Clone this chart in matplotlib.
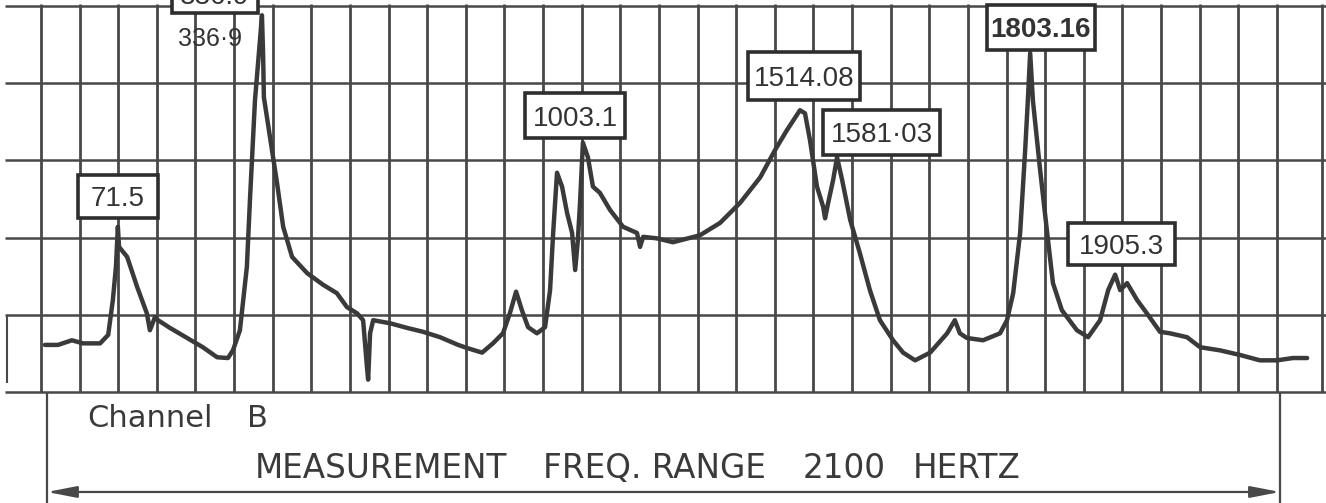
import matplotlib
matplotlib.use('Agg')
import matplotlib.pyplot as plt
from matplotlib.patches import Rectangle
import numpy as np

# Channel B spectrum.
# x: grid divisions from the left grid line, y: grid divisions above the base line
freq_div = [0.10, 0.44, 0.80, 1.09, 1.53, 1.74, 1.86, 1.94, 1.99, 2.02,
            2.23, 2.49, 2.74, 2.82, 2.95, 3.03, 3.34, 3.78, 4.19, 4.56,
            4.84, 4.97, 5.15, 5.33, 5.41, 5.54, 5.67, 5.72, 5.75, 5.77,
            5.98, 6.11, 6.27, 6.50, 6.89, 7.30, 7.66, 7.92, 8.18, 8.34,
            8.44, 8.47, 8.52, 8.60, 9.04, 9.48, 9.89, 10.33, 10.80, 11.03,
            11.42, 11.70, 11.96, 12.14, 12.30, 12.45, 12.61, 12.84, 13.05, 13.18,
            13.26, 13.36, 13.49, 13.62, 13.75, 13.83, 13.90, 13.96, 14.03, 14.16,
            14.29, 14.47, 14.73, 15.07, 15.43, 15.51, 15.59, 15.95, 16.36, 17.06,
            17.58, 18.10, 18.62, 19.00, 19.31, 19.65, 19.78, 19.91, 20.09, 20.25,
            20.30, 20.38, 20.51, 20.61, 20.74, 20.95, 21.20, 21.46, 21.72, 22.06,
            22.32, 22.63, 23.02, 23.46, 23.66, 23.79, 23.97, 24.39, 24.83, 25.01,
            25.17, 25.35, 25.48, 25.55, 25.61, 25.68, 25.86, 26.05, 26.20, 26.43,
            26.82, 27.11, 27.42, 27.63, 27.81, 27.94, 28.12, 28.38, 28.63, 28.97,
            29.23, 29.67, 30.01, 30.52, 31.04, 31.56, 32.00, 32.41, 32.78]
amp_div = [0.61, 0.61, 0.67, 0.63, 0.63, 0.74, 1.19, 1.62, 2.14, 1.88,
           1.75, 1.36, 1.02, 0.80, 0.97, 0.93, 0.83, 0.70, 0.58, 0.45,
           0.44, 0.54, 0.80, 1.62, 2.49, 3.78, 4.56, 4.88, 4.39, 3.82,
           3.13, 2.71, 2.14, 1.75, 1.54, 1.39, 1.28, 1.10, 1.02, 0.93,
           0.32, 0.16, 0.76, 0.93, 0.89, 0.83, 0.78, 0.71, 0.61, 0.57,
           0.51, 0.63, 0.76, 1.02, 1.30, 1.06, 0.84, 0.76, 0.84, 1.32,
           2.06, 2.84, 2.66, 2.32, 2.06, 1.58, 1.97, 2.49, 3.23, 3.04,
           2.66, 2.58, 2.36, 2.14, 2.06, 1.88, 2.01, 1.99, 1.94, 2.03,
           2.19, 2.45, 2.78, 3.13, 3.39, 3.65, 3.61, 3.26, 2.66, 2.40,
           2.25, 2.45, 2.75, 3.04, 2.75, 2.23, 1.80, 1.32, 0.93, 0.67,
           0.51, 0.41, 0.51, 0.76, 0.93, 0.76, 0.70, 0.67, 0.76, 0.93,
           1.28, 2.06, 3.13, 3.78, 4.39, 3.78, 2.91, 2.06, 1.41, 1.06,
           0.80, 0.71, 0.93, 1.32, 1.52, 1.32, 1.41, 1.19, 1.02, 0.78,
           0.76, 0.71, 0.58, 0.54, 0.48, 0.41, 0.41, 0.44, 0.44]

peak_labels = ['71.5', '336.9', '1003.1', '1514.08', '1581·03', '1803.16', '1905.3']
side_label = '336·9'
bottom_words = ['MEASUREMENT', 'FREQ. RANGE', '2100', 'HERTZ']

# where the boxes sit on the paper (grid divisions)
box_x0 = [0.958, 3.392, 12.531, 18.304, 20.246, 24.492, 26.589]
box_x1 = [3.029, 5.618, 15.120, 21.204, 23.275, 27.288, 29.359]
box_y0 = [2.254, 4.909, 3.290, 3.782, 3.070, 4.430, 1.645]
box_y1 = [2.811, 5.400, 3.873, 4.404, 3.653, 5.013, 2.189]
word_x = [5.54, 13.00, 19.73, 22.58]

ink = '#3a3a3a'
grid_ink = '#484848'

fig = plt.figure(figsize=(13.26, 5.03), dpi=100)
ax = fig.add_axes([0, 0, 1, 1])
ax.set_xlim(-1.0615, 33.269)
ax.set_ylim(-1.4378, 5.0777)
ax.axis('off')

# chart paper
ax.vlines(list(range(33)) + [33.165], 0, 5.03, color=grid_ink, lw=2.0, zorder=1)
ax.hlines(range(6), -0.932, 33.27, color=grid_ink, lw=1.8, zorder=1)
ax.vlines(-0.88, 0.117, 0.985, color=grid_ink, lw=1.5, zorder=1)

# trace
ax.plot(freq_div, amp_div, color=ink, lw=3.2, solid_joinstyle='round',
        solid_capstyle='round', zorder=3)

label_font = ['Liberation Sans Narrow', 'Liberation Sans', 'DejaVu Sans']
for i, txt in enumerate(peak_labels):
    ax.add_patch(Rectangle((box_x0[i], box_y0[i]), box_x1[i] - box_x0[i],
                           box_y1[i] - box_y0[i], fc='white', ec='#2e2e2e',
                           lw=2.6, zorder=4))
    ax.text((box_x0[i] + box_x1[i]) / 2, (box_y0[i] + box_y1[i]) / 2, txt,
            ha='center', va='center_baseline', fontsize=20,
            fontweight='bold' if txt.startswith('1803') else 'normal',
            family=label_font, color='#333333', zorder=5)

ax.text(4.375, 4.60, side_label, ha='center', va='center_baseline', fontsize=18,
        family=['Liberation Sans', 'DejaVu Sans'], color='#333333', zorder=5)

# measurement range frame below the paper
ax.vlines([0.155, 32.078], -1.44, 0, color=grid_ink, lw=1.6, zorder=1)
ax.annotate('', xy=(0.155, -1.295), xytext=(32.078, -1.295),
            arrowprops=dict(arrowstyle='<|-|>,head_length=1.8,head_width=0.35',
                            lw=1.6, color=grid_ink, shrinkA=0, shrinkB=0))

ax.text(1.191, -0.298, 'Channel', ha='left', va='center_baseline', fontsize=22,
        family='DejaVu Sans', color=ink)
ax.text(5.333, -0.298, 'B', ha='left', va='center_baseline', fontsize=22,
        family='DejaVu Sans', color=ink)
for w, xw in zip(bottom_words, word_x):
    ax.text(xw, -0.946, w, ha='left', va='center_baseline', fontsize=23.5,
            family='DejaVu Sans', color=ink)

fig.savefig('out.png', dpi=100)
